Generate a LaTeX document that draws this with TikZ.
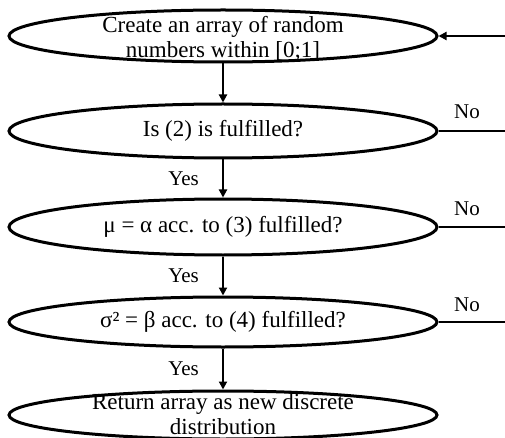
\documentclass[tikz,border=0pt]{standalone}
\usepackage{fontspec}
\setmainfont{Liberation Serif}
\usetikzlibrary{arrows.meta,shapes.geometric}
\begin{document}
\begin{tikzpicture}[x=1pt,y=-1pt,
  ell/.style={ellipse, draw=black, line width=3pt, minimum width=428pt, inner sep=0pt, font=\fontsize{23}{26}\selectfont},
  txt/.style={align=center, inner sep=0pt, font=\fontsize{23}{25}\selectfont},
  lbl/.style={font=\fontsize{21}{24}\selectfont, inner sep=0pt},
  arr/.style={line width=2.3pt, -{Triangle[length=8pt,width=8pt]}},
  ln/.style={line width=2.5pt}]
\useasboundingbox (0,0) rectangle (505,438);
\node[ell, minimum height=52pt] (e1) at (223,36) {};
\node[txt] (t1) at (223,39) {Create an array of random\\numbers within [0;1]};
\node[ell, minimum height=54pt] (e2) at (223,131) {Is (2) is fulfilled?};
\node[ell, minimum height=56pt] (e3) at (223,227) {μ = α acc. to (3) fulfilled?};
\node[ell, minimum height=50pt] (e4) at (223,322) {σ² = β acc. to (4) fulfilled?};
\node[ell, minimum height=48pt] (e5) at (223,415) {};
\node[txt] (t5) at (223,414.5) {Return array as new discrete\\distribution};
\coordinate (in1) at (505,36);
\coordinate (out2) at (505,131);
\coordinate (out3) at (505,227);
\coordinate (out4) at (505,322);
\draw[arr] (in1) -- (e1.east);
\draw[arr] (e1) -- (e2);
\draw[arr] (e2) -- (e3) node[lbl, midway, left=23pt] (y1) {Yes};
\draw[arr] (e3) -- (e4) node[lbl, midway, left=23pt] (y2) {Yes};
\draw[arr] (e4) -- (e5) node[lbl, midway, left=23pt] (y3) {Yes};
\draw[ln] (e2.east) -- (out2);
\draw[ln] (e3.east) -- (out3);
\draw[ln] (e4.east) -- (out4);
\node[lbl, anchor=base] (n1) at (467,119) {No};
\node[lbl, anchor=base] (n2) at (467,215) {No};
\node[lbl, anchor=base] (n3) at (467,311) {No};
\end{tikzpicture}
\end{document}
